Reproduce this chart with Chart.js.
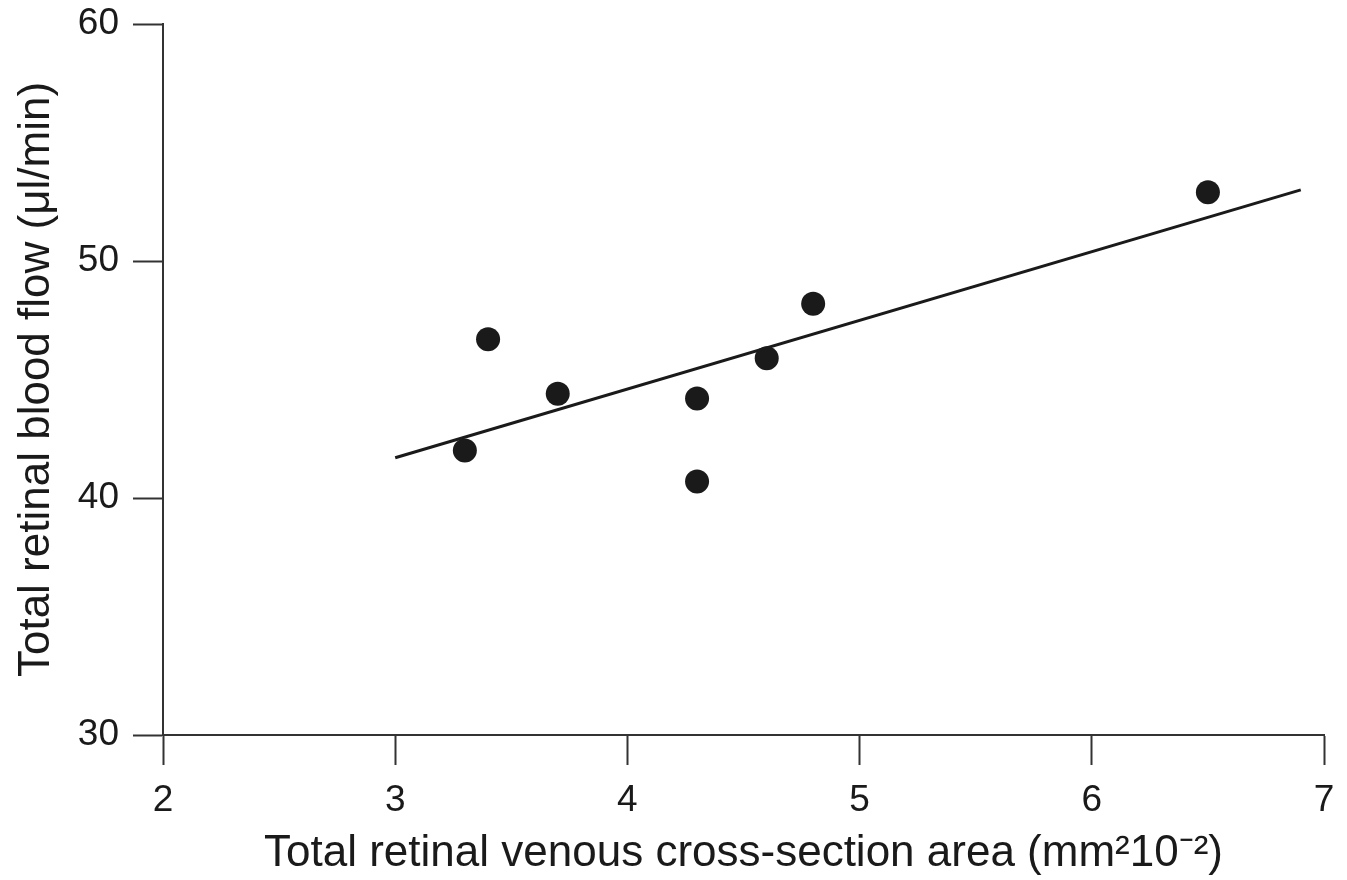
<!DOCTYPE html>
<html>
<head>
<meta charset="utf-8">
<script src="https://cdn.jsdelivr.net/npm/chart.js@4/dist/chart.umd.min.js"></script>
<style>
    body { margin: 0; background: #fff; }
    #wrap { width: 1347px; height: 880px; position: relative; }
</style>
</head>
<body>
<div id="wrap"><canvas id="flowChart"></canvas></div>
<script>
// ==============================
// Data
// ==============================

const areaX = [3.3, 3.4, 3.7, 4.3, 4.3, 4.6, 4.8, 6.5];
const flowY = [42.0, 46.7, 44.4, 44.2, 40.7, 45.9, 48.2, 52.9];

const fitX = [3.0, 6.9];
const fitY = [41.7, 53.0];

const xTicks = [2, 3, 4, 5, 6, 7];
const yTicks = [30, 40, 50, 60];

const ink = "#1a1a1a";
const axisInk = "#333333";
const font = "'Liberation Sans', Arial, Helvetica, sans-serif";

// ==============================
// Chart
// ==============================

const ctx = document.getElementById("flowChart");

new Chart(ctx, {
    type: "scatter",
    data: {
        datasets: [{
            label: "Measurements",
            data: areaX.map((x, i) => ({ x: x, y: flowY[i] })),
            pointRadius: 12,
            pointHoverRadius: 12,
            pointBackgroundColor: ink,
            pointBorderWidth: 0,
            showLine: false
        }, {
            label: "Regression",
            data: fitX.map((x, i) => ({ x: x, y: fitY[i] })),
            showLine: true,
            borderColor: ink,
            borderWidth: 3,
            pointRadius: 0,
            fill: false
        }]
    },
    options: {
        responsive: true,
        maintainAspectRatio: false,
        animation: false,
        layout: {
            padding: { top: 24, right: 23, left: 0, bottom: 0 }
        },
        plugins: {
            legend: { display: false },
            tooltip: { enabled: false }
        },
        scales: {
            x: {
                type: "linear",
                min: xTicks[0],
                max: xTicks[xTicks.length - 1],
                afterBuildTicks: scale => {
                    scale.ticks = xTicks.map(v => ({ value: v }));
                },
                afterFit: scale => {
                    scale.height = 145;
                    scale.paddingLeft = 0;
                    scale.paddingRight = 0;
                },
                grid: {
                    drawOnChartArea: false,
                    drawTicks: true,
                    tickLength: 30,
                    tickWidth: 2,
                    tickColor: axisInk
                },
                border: { display: true, color: axisInk, width: 2 },
                ticks: {
                    color: ink,
                    padding: 14,
                    font: { family: font, size: 37 }
                },
                title: {
                    display: true,
                    text: "Total retinal venous cross-section area (mm²10⁻²)",
                    color: ink,
                    padding: { top: 0, bottom: 0 },
                    font: { family: font, size: 44 }
                }
            },
            y: {
                type: "linear",
                min: yTicks[0],
                max: yTicks[yTicks.length - 1],
                afterBuildTicks: scale => {
                    scale.ticks = yTicks.map(v => ({ value: v }));
                },
                afterFit: scale => {
                    scale.width = 163;
                    scale.paddingTop = 0;
                    scale.paddingBottom = 0;
                },
                grid: {
                    drawOnChartArea: false,
                    drawTicks: true,
                    tickLength: 30,
                    tickWidth: 2,
                    tickColor: axisInk
                },
                border: { display: true, color: axisInk, width: 2 },
                ticks: {
                    color: ink,
                    padding: 14,
                    font: { family: font, size: 37 }
                },
                title: {
                    display: true,
                    text: "Total retinal blood flow (μl/min)",
                    color: ink,
                    padding: { top: 10, bottom: 0 },
                    font: { family: font, size: 44 }
                }
            }
        }
    }
});
</script>
</body>
</html>
